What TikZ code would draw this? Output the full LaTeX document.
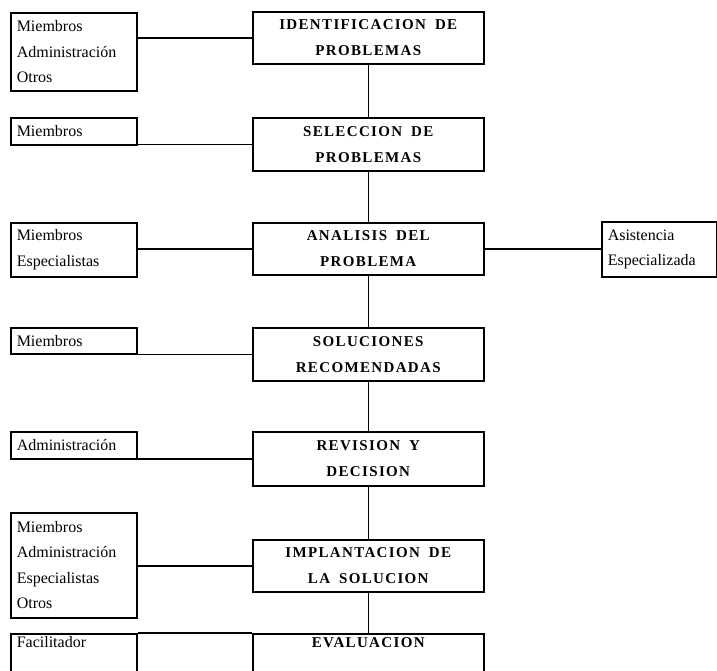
\documentclass[tikz,border=0pt]{standalone}
\usepackage{fontspec}
\setmainfont{Liberation Serif}
\newfontfamily\capsfont[LetterSpace=9]{Liberation Serif}
\newcommand{\lfnt}{\fontsize{16}{25.5}\selectfont}
\newcommand{\cfnt}{\capsfont\bfseries\fontsize{15}{26}\selectfont}
\newcommand{\wsp}{\hspace{0.6em}}
\begin{document}
\begin{tikzpicture}[x=1pt,y=-1pt,
  every node/.style={line width=1.5pt},
  leftbox/.style={draw, anchor=north west, text width=114pt, inner xsep=6pt, inner ysep=0pt, align=left, font=\lfnt},
  rightbox/.style={draw, anchor=north west, text width=103pt, inner xsep=6pt, inner ysep=0pt, align=left, font=\lfnt},
  stagebox/.style={draw, anchor=north west, minimum width=231pt, inner ysep=0pt, align=center, font=\cfnt},
  conn/.style={line width=1.5pt}]
\useasboundingbox (0,0) rectangle (717,670);
% row 1
\node[leftbox, minimum height=78pt] (L1) at (10,12) {Miembros\\Administración\\Otros};
\node[stagebox, minimum height=52pt] (C1) at (252,11) {IDENTIFICACION\wsp DE\\PROBLEMAS};
% row 2
\node[leftbox, minimum height=27pt] (L2) at (10,117) {Miembros};
\node[stagebox, minimum height=53pt] (C2) at (252,117) {SELECCION\wsp DE\\PROBLEMAS};
% row 3
\node[leftbox, minimum height=54pt] (L3) at (10,222) {Miembros\\Especialistas};
\node[stagebox, minimum height=52pt] (C3) at (252,222) {ANALISIS\wsp DEL\\PROBLEMA};
\node[rightbox, minimum height=55pt] (R3) at (601,221) {Asistencia\\Especializada};
% row 4
\node[leftbox, minimum height=26pt] (L4) at (10,327) {Miembros};
\node[stagebox, minimum height=53pt] (C4) at (252,327) {SOLUCIONES\\RECOMENDADAS};
% row 5
\node[leftbox, minimum height=27pt] (L5) at (10,431) {Administración};
\node[stagebox, minimum height=54pt] (C5) at (252,431) {REVISION\wsp Y\\DECISION};
% row 6
\node[leftbox, minimum height=105pt] (L6) at (10,512) {Miembros\\Administración\\Especialistas\\Otros};
\node[stagebox, minimum height=52pt] (C6) at (252,539) {IMPLANTACION\wsp DE\\LA\wsp SOLUCION};
% row 7
\node[leftbox, inner ysep=3pt, text depth=40pt] (L7) at (10,633) {Facilitador};
\node[stagebox, inner ysep=4pt, text depth=40pt] (C7) at (252,633) {EVALUACION};
% vertical connectors
\draw[conn] (C1.south) -- (C2.north);
\draw[conn] (C2.south) -- (C3.north);
\draw[conn] (C3.south) -- (C4.north);
\draw[conn] (C4.south) -- (C5.north);
\draw[conn] (C5.south) -- (C6.north);
\draw[conn] (C6.south) -- (C7.north);
% horizontal connectors
\draw[conn] (C1.west -| L1.east) -- (C1.west);
\draw[conn] (C2.west -| L2.east) -- (C2.west);
\draw[conn] (C3.west -| L3.east) -- (C3.west);
\draw[conn] (C3.east) -- (C3.east -| R3.west);
\draw[conn] (C4.west -| L4.east) -- (C4.west);
\draw[conn] (C5.west -| L5.east) -- (C5.west);
\draw[conn] (C6.west -| L6.east) -- (C6.west);
\draw[conn] (L7.north east) -- (C7.north west);
\end{tikzpicture}
\end{document}
